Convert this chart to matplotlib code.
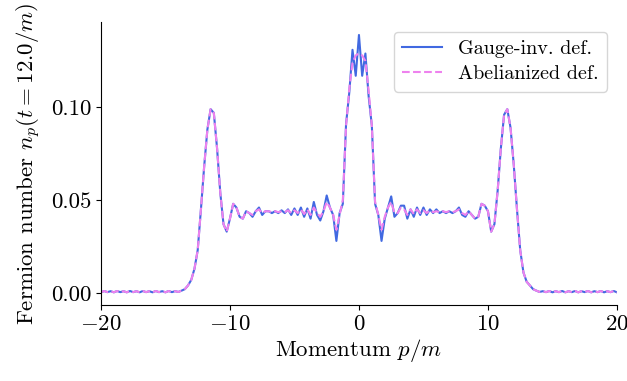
import numpy as np
import matplotlib
matplotlib.use("Agg")
import matplotlib.pyplot as plt

plt.rcParams['font.family'] = 'serif'
plt.rcParams['font.serif'] = ['cmr10']
plt.rcParams['mathtext.fontset'] = 'cm'
plt.rcParams['axes.formatter.use_mathtext'] = True
plt.rcParams['font.size'] = 16.5

# momentum grid, step 0.25
p = np.arange(-20, 20.001, 0.25)

base = [0.0003, 0.0010, 0.0004, 0.0009, 0.0003, 0.0010, 0.0004, 0.0009, 0.0003, 0.0010,
        0.0004, 0.0009, 0.0003, 0.0010, 0.0004, 0.0009, 0.0003, 0.0010, 0.0004, 0.0009,
        0.0003, 0.0010, 0.0004, 0.0009, 0.0005]

# Gauge-inv. definition, p = -13.75 ... 13.75
gauge_mid = [0.0012, 0.002, 0.004, 0.007, 0.013, 0.023, 0.045, 0.068, 0.088, 0.099,
             0.097, 0.078, 0.054, 0.037, 0.033, 0.040, 0.048, 0.046, 0.041, 0.040,
             0.044, 0.043, 0.041, 0.044, 0.046, 0.042, 0.044, 0.044, 0.043, 0.044,
             0.043, 0.0445, 0.043, 0.045, 0.042, 0.0455, 0.042, 0.046, 0.041, 0.0455,
             0.040, 0.049, 0.042, 0.039, 0.044, 0.0525, 0.046, 0.042, 0.028, 0.043,
             0.048, 0.091, 0.108, 0.131, 0.117, 0.139,
             0.117, 0.129, 0.106, 0.090, 0.048, 0.042, 0.028, 0.040, 0.046, 0.052,
             0.041, 0.043, 0.047, 0.047, 0.040, 0.045, 0.041, 0.046, 0.042, 0.046,
             0.042, 0.045, 0.043, 0.045, 0.043, 0.044, 0.043, 0.044, 0.043, 0.044,
             0.046, 0.042, 0.041, 0.044, 0.042, 0.040, 0.041, 0.048, 0.047, 0.044,
             0.033, 0.037, 0.055, 0.078, 0.096, 0.099, 0.089, 0.069, 0.045, 0.023,
             0.011, 0.006, 0.004, 0.002, 0.0012]

# Abelianized definition, p = -13.75 ... 13.75
abel_mid = [0.0012, 0.002, 0.004, 0.007, 0.013, 0.023, 0.045, 0.068, 0.088, 0.099,
            0.097, 0.078, 0.054, 0.037, 0.033, 0.040, 0.048, 0.046, 0.041, 0.040,
            0.044, 0.043, 0.042, 0.044, 0.045, 0.043, 0.044, 0.044, 0.0435, 0.044,
            0.0435, 0.044, 0.0435, 0.0445, 0.043, 0.0445, 0.043, 0.045, 0.0425, 0.045,
            0.042, 0.046, 0.043, 0.041, 0.044, 0.049, 0.046, 0.042, 0.034, 0.042,
            0.050, 0.090, 0.110, 0.124, 0.128, 0.129,
            0.128, 0.125, 0.109, 0.090, 0.049, 0.042, 0.034, 0.041, 0.046, 0.049,
            0.043, 0.043, 0.046, 0.045, 0.042, 0.045, 0.0425, 0.045, 0.043, 0.0445,
            0.043, 0.0445, 0.0435, 0.044, 0.0435, 0.044, 0.0435, 0.044, 0.0435, 0.044,
            0.045, 0.043, 0.042, 0.044, 0.042, 0.040, 0.041, 0.048, 0.047, 0.044,
            0.033, 0.037, 0.055, 0.078, 0.096, 0.099, 0.089, 0.069, 0.045, 0.023,
            0.011, 0.006, 0.004, 0.002, 0.0012]

gauge = np.array(base + gauge_mid + base[::-1])
abel = np.array(base + abel_mid + base[::-1])

fig = plt.figure(figsize=(6.27, 3.81), dpi=100)
ax = fig.add_axes([0.161, 0.199, 0.823, 0.743])

ax.plot(p, gauge, color='royalblue', lw=1.5, label='Gauge-inv. def.')
ax.plot(p, abel, color='violet', lw=1.5, ls='--', label='Abelianized def.')

ax.set_xlim(-20, 20)
ax.set_xticks([-20, -10, 0, 10, 20])
ax.set_yticks([0.0, 0.05, 0.10])
ax.yaxis.set_major_formatter(matplotlib.ticker.FormatStrFormatter('%.2f'))
ax.tick_params(labelsize=16.5)
ax.spines['top'].set_visible(False)
ax.spines['right'].set_visible(False)

ax.set_xlabel('Momentum $p/m$', labelpad=2)
ax.set_ylabel('Fermion number $n_p(t=12.0/m)$', labelpad=6)
ax.legend(loc='upper right', fontsize=14.5, borderaxespad=0.5, labelspacing=0.35)

fig.savefig('out.png', dpi=100)
